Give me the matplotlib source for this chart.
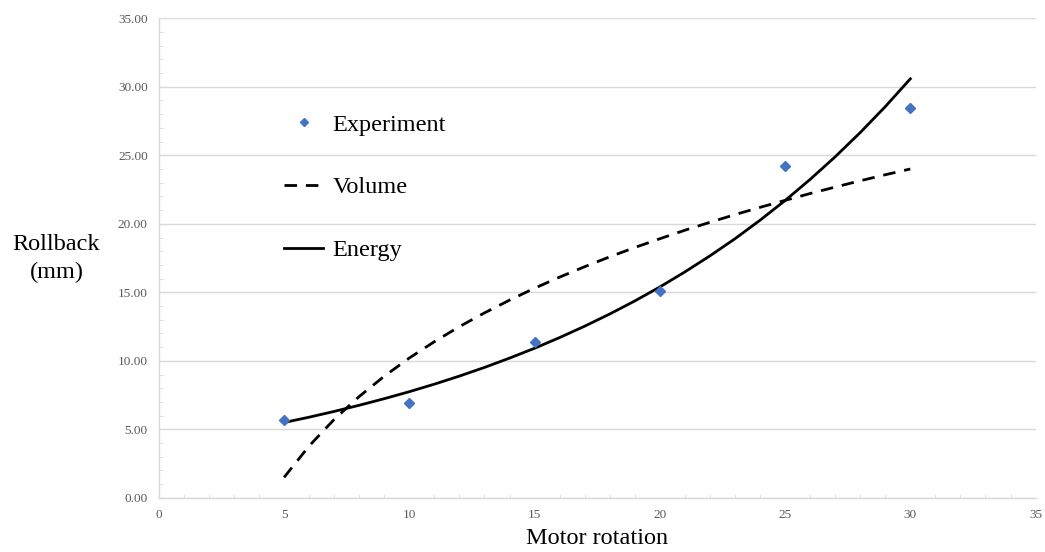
import numpy as np
import matplotlib
matplotlib.use('Agg')
import matplotlib.pyplot as plt
from matplotlib.ticker import MultipleLocator, FormatStrFormatter

# experiment data
exp_x = [5, 10, 15, 20, 25, 30]
exp_y = [5.65, 6.95, 11.35, 15.10, 24.20, 28.45]

# model curves
curve_x = list(range(5, 31))
volume_y = [1.50, 3.79, 5.73, 7.40, 8.88, 10.21, 11.40, 12.50, 13.50, 14.43,
            15.30, 16.11, 16.87, 17.59, 18.27, 18.91, 19.53, 20.11, 20.67, 21.20,
            21.71, 22.21, 22.68, 23.14, 23.58, 24.00]
energy_y = [5.50, 5.89, 6.31, 6.76, 7.24, 7.75, 8.30, 8.89, 9.52, 10.20,
            10.92, 11.70, 12.53, 13.42, 14.37, 15.39, 16.49, 17.66, 18.91, 20.26,
            21.70, 23.24, 24.89, 26.66, 28.55, 30.58]

plt.rcParams['font.family'] = ['Liberation Serif', 'DejaVu Serif']

fig = plt.figure(figsize=(10.45, 5.52), dpi=100)
ax = fig.add_axes([0.152, 0.098, 0.839, 0.869])

ax.plot(curve_x, volume_y, color='black', lw=2.0, dashes=(4.5, 3.2), label='Volume', zorder=3)
ax.plot(curve_x, energy_y, color='black', lw=2.0, label='Energy', zorder=3)
ax.plot(exp_x, exp_y, linestyle='none', marker='D', color='#4472C4', markersize=5.5,
        label='Experiment', zorder=4)

ax.set_xlim(0, 35)
ax.set_ylim(0, 35)
ax.xaxis.set_major_locator(MultipleLocator(5))
ax.xaxis.set_minor_locator(MultipleLocator(1))
ax.yaxis.set_major_locator(MultipleLocator(5))
ax.yaxis.set_minor_locator(MultipleLocator(1))
ax.yaxis.set_major_formatter(FormatStrFormatter('%.2f'))

ax.grid(axis='y', which='major', color='#d9d9d9', lw=1)
ax.set_axisbelow(True)
for s in ['top', 'right']:
    ax.spines[s].set_visible(False)
for s in ['left', 'bottom']:
    ax.spines[s].set_color('#d9d9d9')
    ax.spines[s].set_linewidth(1)

ax.tick_params(which='major', length=0, labelsize=9.5, labelcolor='#595959', pad=8)
ax.tick_params(which='minor', direction='in', length=3, color='#d9d9d9')

ax.set_xlabel('Motor rotation', fontsize=17.5, labelpad=5)
fig.text(0.054, 0.532, 'Rollback\n(mm)', fontsize=17.5, ha='center', va='center',
         linespacing=1.45)

handles, labels = ax.get_legend_handles_labels()
order = [2, 0, 1]
leg = ax.legend([handles[i] for i in order], [labels[i] for i in order],
                loc='upper left', bbox_to_anchor=(0.251, 0.834), bbox_transform=fig.transFigure,
                frameon=False, fontsize=17.5, handlelength=1.6, handletextpad=0.4,
                labelspacing=1.68, markerscale=0.7)

fig.savefig('out.png', dpi=100)
